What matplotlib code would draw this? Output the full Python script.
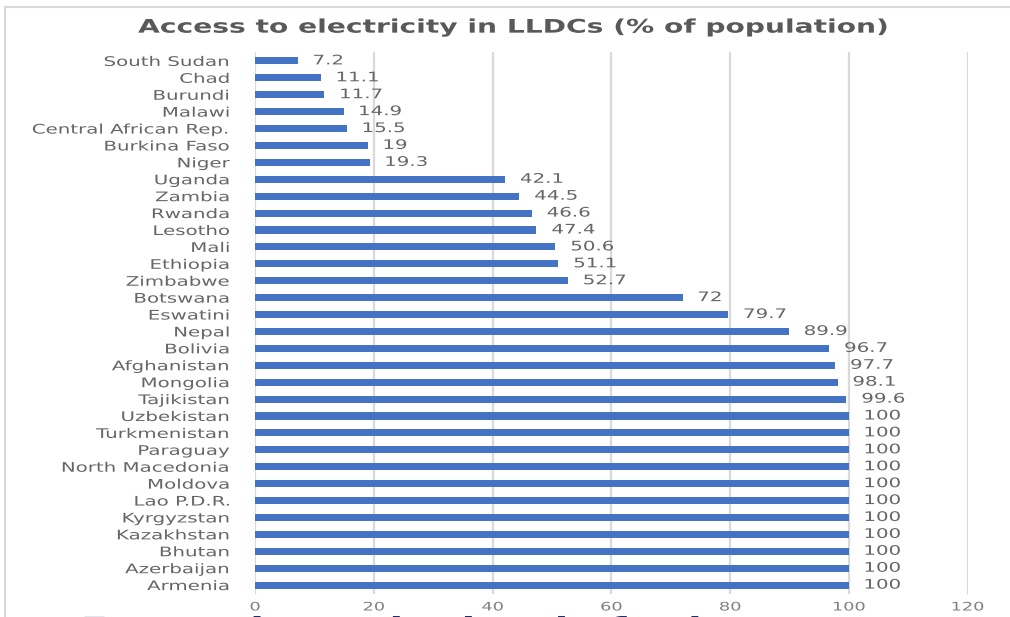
import matplotlib
matplotlib.use("Agg")
import matplotlib.pyplot as plt
from matplotlib.lines import Line2D
from matplotlib.patheffects import AbstractPathEffect
from matplotlib.transforms import Affine2D

countries = [
    "South Sudan", "Chad", "Burundi", "Malawi", "Central African Rep.",
    "Burkina Faso", "Niger", "Uganda", "Zambia", "Rwanda", "Lesotho", "Mali",
    "Ethiopia", "Zimbabwe", "Botswana", "Eswatini", "Nepal", "Bolivia",
    "Afghanistan", "Mongolia", "Tajikistan", "Uzbekistan", "Turkmenistan",
    "Paraguay", "North Macedonia", "Moldova", "Lao P.D.R.", "Kyrgyzstan",
    "Kazakhstan", "Bhutan", "Azerbaijan", "Armenia",
]
access = [
    7.2, 11.1, 11.7, 14.9, 15.5, 19, 19.3, 42.1, 44.5, 46.6, 47.4, 50.6,
    51.1, 52.7, 72, 79.7, 89.9, 96.7, 97.7, 98.1, 99.6, 100, 100, 100,
    100, 100, 100, 100, 100, 100, 100, 100,
]
x_ticks = [0, 20, 40, 60, 80, 100, 120]

BAR_COLOR = "#4472C4"
GRID_COLOR = "#d9d9d9"
STRETCH = 1.5  # the screenshot's text is wide, stretch glyphs horizontally


class Stretch(AbstractPathEffect):
    """Widen a text path horizontally around its left/right/center edge."""

    def __init__(self, sx=STRETCH, anchor="left"):
        super().__init__()
        self.sx = sx
        self.anchor = anchor

    def draw_path(self, renderer, gc, tpath, affine, rgbFace=None):
        bb = tpath.get_extents(affine)
        if self.anchor == "right":
            x0 = bb.x1
        elif self.anchor == "center":
            x0 = (bb.x0 + bb.x1) / 2
        else:
            x0 = bb.x0
        t = affine + Affine2D().translate(-x0, 0).scale(self.sx, 1).translate(x0, 0)
        renderer.draw_path(gc, tpath, t, rgbFace)


fig = plt.figure(figsize=(10.10, 6.17), dpi=100)
ax = fig.add_axes([0.2525, 0.038, 0.958 - 0.2525, 0.915 - 0.038])

ypos = list(range(len(countries)))
ax.barh(ypos, access, height=0.42, color=BAR_COLOR, zorder=2)

# value labels
for y, v in zip(ypos, access):
    t = ax.annotate(f"{v:g}", xy=(v, y), xytext=(11, 0), textcoords="offset points",
                    ha="left", va="center", fontsize=9.5, color="#666666")
    t.set_path_effects([Stretch(anchor="left")])

ax.set_xlim(0, 120)
ax.set_ylim(len(countries) - 0.5, -0.5)
ax.set_xticks(x_ticks)
ax.set_yticks(ypos)
ax.set_yticklabels(countries)
ax.tick_params(axis="y", length=0, pad=18, labelsize=9.5, labelcolor="#666666")
ax.tick_params(axis="x", length=0, pad=5, labelsize=8.5, labelcolor="#808080")
for lab in ax.get_yticklabels():
    lab.set_path_effects([Stretch(anchor="right")])
for lab in ax.get_xticklabels():
    lab.set_path_effects([Stretch(anchor="center")])

ax.grid(axis="x", color=GRID_COLOR, linewidth=1.6, zorder=0)
ax.set_axisbelow(True)
for s in ax.spines.values():
    s.set_visible(False)

# title
title = fig.text(0.508, 0.956, "Access to electricity in LLDCs (% of population)",
                 ha="center", va="center", fontsize=13.5, fontweight="bold", color="#595959")
title.set_path_effects([Stretch(anchor="center")])

# chart frame (only top and left edges fall inside the screenshot)
fig.add_artist(Line2D([5 / 1010, 5 / 1010], [0, 1 - 7 / 617], transform=fig.transFigure,
                      color=GRID_COLOR, linewidth=1.5))
fig.add_artist(Line2D([5 / 1010, 1], [1 - 7 / 617, 1 - 7 / 617], transform=fig.transFigure,
                      color=GRID_COLOR, linewidth=1.5))

# slide heading below the chart, cut off by the screenshot edge
nxt = fig.text(82 / 1010, -0.031, "Energy intensity level of primary energy",
               ha="left", va="baseline", fontsize=19, fontweight="bold", color="#0b1f5e")
nxt.set_path_effects([Stretch(anchor="left")])

fig.savefig("out.png", dpi=100)
